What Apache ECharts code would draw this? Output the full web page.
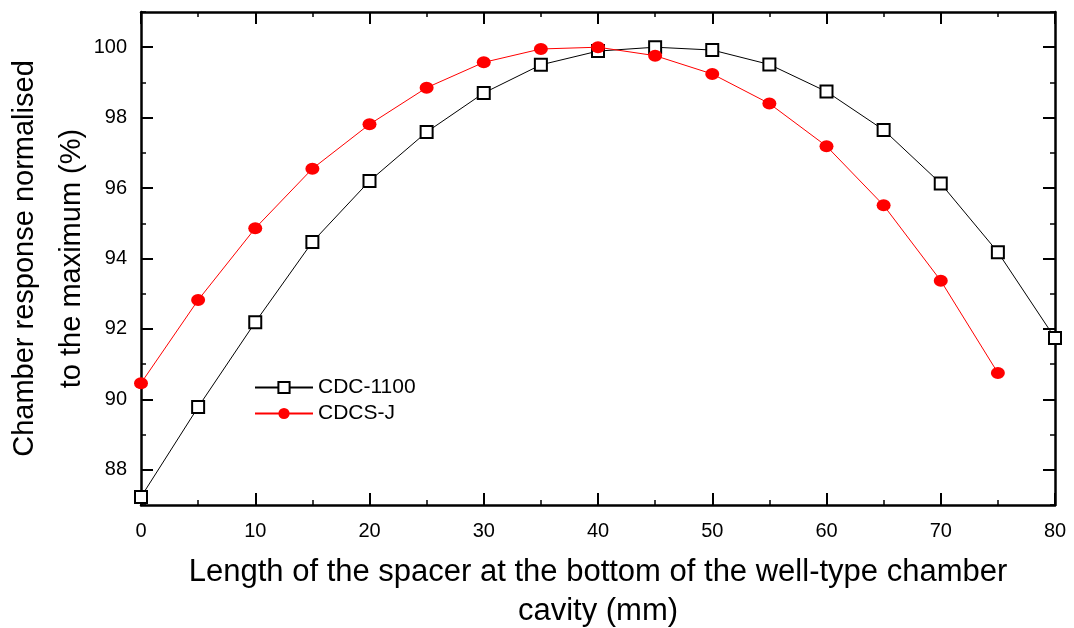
<!DOCTYPE html>
<html>
<head>
<meta charset="utf-8">
<script src="https://cdn.jsdelivr.net/npm/echarts@6/dist/echarts.min.js"></script>
<style>
  html, body { margin: 0; padding: 0; background: #fff; }
  #chart { width: 1074px; height: 628px; }
</style>
</head>
<body>
<div id="chart"></div>
<script>
// spacer length (mm)
var spacerLength = [0, 5, 10, 15, 20, 25, 30, 35, 40, 45, 50, 55, 60, 65, 70, 75, 80];
// normalised response (%)
var cdc1100 = [87.23, 89.78, 92.19, 94.47, 96.20, 97.59, 98.70, 99.50, 99.89, 100.0, 99.92, 99.51, 98.74, 97.65, 96.13, 94.18, 91.74];
var cdcsJ = [90.46, 92.82, 94.86, 96.55, 97.81, 98.85, 99.57, 99.95, 100.0, 99.76, 99.24, 98.40, 97.19, 95.51, 93.37, 90.75];
// labelled ticks on the y axis
var yMajorTicks = [88, 90, 92, 94, 96, 98, 100];

var FONT = "'Liberation Sans', Arial, sans-serif";

function pairs(xs, ys) {
    var out = [];
    for (var i = 0; i < ys.length; i++) out.push([xs[i], ys[i]]);
    return out;
}

//x轴（上下）
function makeX(pos, labels) {
    return {
        type: 'value', position: pos, min: 0, max: 80, interval: 10,
        axisLine: { show: true, onZero: false, lineStyle: { color: '#000', width: 2.5 } },
        axisTick: { show: true, inside: true, length: 12, lineStyle: { color: '#000', width: 2 } },
        minorTick: { show: true, splitNumber: 2, length: 5, lineStyle: { color: '#000', width: 1.5 } },
        axisLabel: { show: labels, color: '#000', fontSize: 20, fontFamily: FONT, margin: 16 },
        splitLine: { show: false }
    };
}

//y轴：主刻度 / 次刻度
function makeYMajor(pos, labels) {
    return {
        type: 'value', position: pos, min: 87, max: 101,
        axisLine: { show: true, onZero: false, lineStyle: { color: '#000', width: 2.5 } },
        axisTick: { show: true, inside: true, length: 12, customValues: yMajorTicks, lineStyle: { color: '#000', width: 2 } },
        axisLabel: { show: labels, customValues: yMajorTicks, color: '#000', fontSize: 20, fontFamily: FONT, margin: 14 },
        splitLine: { show: false }
    };
}
function makeYMinor(pos) {
    return {
        type: 'value', position: pos, min: 87, max: 101, interval: 1,
        axisLine: { show: false, onZero: false },
        axisTick: { show: true, inside: true, length: 5, lineStyle: { color: '#000', width: 1.5 } },
        axisLabel: { show: false },
        splitLine: { show: false }
    };
}

var xBottom = makeX('bottom', true);
xBottom.name = 'Length of the spacer at the bottom of the well-type chamber\ncavity (mm)';
xBottom.nameLocation = 'middle';
xBottom.nameGap = 48;
xBottom.nameTextStyle = { color: '#000', fontSize: 31, fontFamily: FONT, lineHeight: 39 };

var yLeft = makeYMajor('left', true);
yLeft.name = 'Chamber response normalised\nto the maximum (%)';
yLeft.nameLocation = 'middle';
yLeft.nameGap = 46;
yLeft.nameMoveOverlap = false;
yLeft.nameTextStyle = { color: '#000', fontSize: 29, fontFamily: FONT, lineHeight: 47 };

var myChart = echarts.init(document.getElementById('chart'));
var option = {
    backgroundColor: '#fff',
    animation: false,
    grid: { left: 141, right: 19, top: 12, bottom: 123, containLabel: false, outerBoundsMode: 'none' },
    legend: {
        orient: 'vertical', left: 254, top: 377, padding: 0,
        itemWidth: 58, itemHeight: 14, itemGap: 5,
        textStyle: { color: '#000', fontSize: 21, fontFamily: FONT, lineHeight: 20 },
        data: ['CDC-1100', 'CDCS-J']
    },
    xAxis: [xBottom, makeX('top', false)],
    yAxis: [yLeft, makeYMinor('left'), makeYMajor('right', false), makeYMinor('right')],
    series: [
        {
            name: 'CDC-1100', type: 'line', xAxisIndex: 0, yAxisIndex: 0,
            data: pairs(spacerLength, cdc1100),
            symbol: 'rect', symbolSize: 12,
            itemStyle: { color: '#fff', borderColor: '#000', borderWidth: 2 },
            lineStyle: { color: '#000', width: 1 }
        },
        {
            name: 'CDCS-J', type: 'line', xAxisIndex: 0, yAxisIndex: 0,
            data: pairs(spacerLength, cdcsJ),
            symbol: 'circle', symbolSize: [14, 12],
            itemStyle: { color: '#ff0000' },
            lineStyle: { color: '#ff0000', width: 1 }
        }
    ]
};
myChart.setOption(option);
</script>
</body>
</html>
